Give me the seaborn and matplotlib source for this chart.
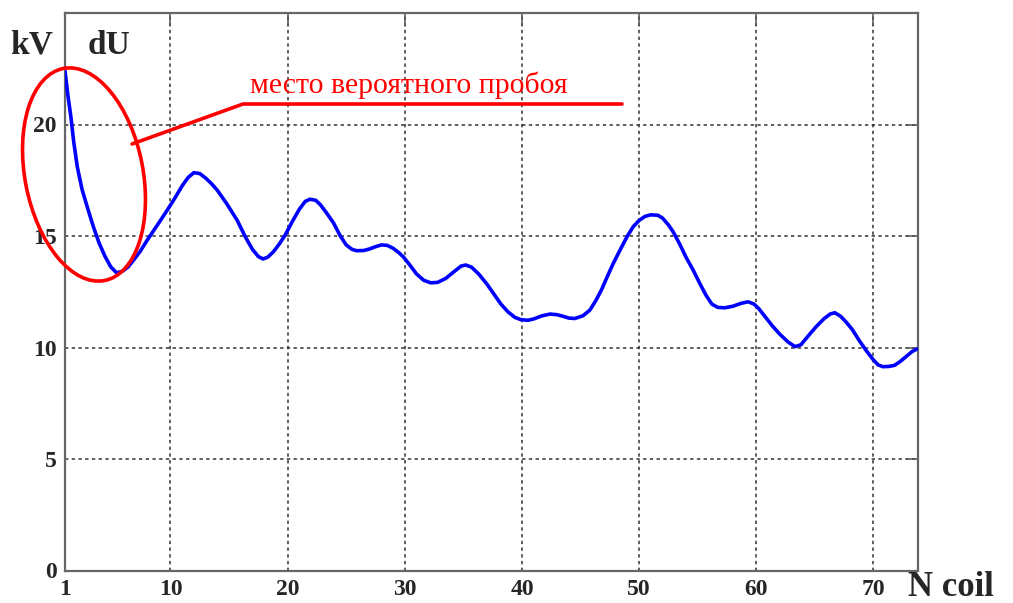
import matplotlib
matplotlib.use("Agg")
import matplotlib.pyplot as plt
from matplotlib.patches import Ellipse
import seaborn as sns
import pandas as pd

# Voltage difference between neighbouring coils along the winding
coil = [1, 1.25, 1.5, 1.75, 2.05, 2.45, 2.9, 3.4, 3.9, 4.4, 4.9, 5.4, 5.9,
        6.4, 6.9, 7.4, 8.0, 8.6, 9.2, 9.8, 10.4, 11.0, 11.5, 12.0, 12.5,
        13.0, 13.5, 14.0, 14.8, 15.7, 16.4, 17.0, 17.5, 17.9, 18.3, 18.8,
        19.3, 19.8, 20.4, 21.0, 21.5, 21.9, 22.4, 22.8, 23.3, 23.9, 24.5,
        25.0, 25.5, 25.9, 26.5, 27.0, 27.5, 28.0, 28.5, 29.0, 29.5, 29.9,
        30.5, 31.0, 31.6, 32.2, 32.8, 33.5, 34.2, 34.8, 35.2, 35.7, 36.3,
        37.0, 37.6, 38.2, 38.8, 39.4, 39.9, 40.5, 41.0, 41.7, 42.4, 43.0,
        43.5, 44.0, 44.5, 45.2, 45.8, 46.3, 46.8, 47.3, 47.8, 48.4, 49.0,
        49.5, 50.0, 50.5, 51.0, 51.6, 52.0, 52.5, 52.9, 53.5, 54.0, 54.6,
        55.2, 55.7, 56.2, 56.7, 57.3, 58.0, 58.7, 59.3, 59.8, 60.2, 60.8,
        61.4, 62.0, 62.7, 63.3, 63.8, 64.4, 65.1, 65.8, 66.3, 66.7, 67.2,
        67.7, 68.2, 68.8, 69.4, 70.0, 70.4, 70.8, 71.3, 71.8, 72.3, 72.8,
        73.3, 73.7]
du_kv = [22.4, 21.3, 20.35, 19.2, 18.1, 17.1, 16.3, 15.45, 14.7, 14.1, 13.62,
         13.35, 13.42, 13.62, 13.95, 14.3, 14.8, 15.27, 15.74, 16.22, 16.72,
         17.25, 17.62, 17.84, 17.8, 17.6, 17.35, 17.05, 16.45, 15.7, 14.95,
         14.4, 14.08, 13.97, 14.05, 14.3, 14.65, 15.05, 15.65, 16.2, 16.55,
         16.65, 16.6, 16.4, 16.05, 15.6, 15.0, 14.6, 14.4, 14.34, 14.35,
         14.42, 14.52, 14.6, 14.58, 14.45, 14.25, 14.05, 13.65, 13.3, 13.02,
         12.9, 12.92, 13.1, 13.4, 13.65, 13.7, 13.6, 13.3, 12.85, 12.4, 11.95,
         11.6, 11.35, 11.25, 11.22, 11.28, 11.42, 11.5, 11.47, 11.4, 11.32,
         11.3, 11.42, 11.68, 12.1, 12.6, 13.2, 13.78, 14.4, 15.0, 15.42, 15.7,
         15.88, 15.95, 15.93, 15.8, 15.5, 15.19, 14.6, 14.05, 13.48, 12.85,
         12.35, 11.95, 11.8, 11.78, 11.85, 11.98, 12.05, 11.95, 11.75, 11.35,
         10.95, 10.6, 10.25, 10.04, 10.12, 10.5, 10.93, 11.3, 11.5, 11.56,
         11.4, 11.12, 10.8, 10.3, 9.85, 9.44, 9.22, 9.14, 9.15, 9.2, 9.38,
         9.6, 9.82, 9.93]

x_ticks = [1, 10, 20, 30, 40, 50, 60, 70]
y_ticks = [0, 5, 10, 15, 20]

sns.set_style("white")
plt.rcParams["font.family"] = ["Liberation Serif", "DejaVu Serif"]

W, H = 1013, 603
fig = plt.figure(figsize=(W / 100, H / 100), dpi=100)
ax = fig.add_axes([65 / W, 1 - 570.5 / H, (918 - 65) / W, (570.5 - 13) / H])

df = pd.DataFrame({"coil": coil, "du": du_kv})
sns.lineplot(data=df, x="coil", y="du", ax=ax, color="#0000FF", lw=2.6,
             zorder=3, solid_joinstyle="round", solid_capstyle="round")

ax.set_xlim(1, 73.8)
ax.set_ylim(0, 25)
ax.set_xticks(x_ticks)
ax.set_yticks(y_ticks + [25])
ax.set_yticklabels([str(v) for v in y_ticks] + [""])
ax.set_xlabel("")
ax.set_ylabel("")

ax.grid(True, color="#333333", linestyle=(0, (2.2, 2.2)), lw=1.1, zorder=1)
ax.tick_params(direction="in", length=9, width=1.1, color="#555555",
               top=True, right=True, pad=6, labelsize=17)
for lab in ax.get_xticklabels() + ax.get_yticklabels():
    lab.set_fontweight("bold")
for sp in ax.spines.values():
    sp.set_color("#666666")
    sp.set_linewidth(1.6)

# Axis captions
fig.text(10 / W, 1 - 45 / H, "kV", fontsize=24, fontweight="bold",
         ha="left", va="center")
fig.text(88 / W, 1 - 45 / H, "dU", fontsize=24, fontweight="bold",
         ha="left", va="center")
fig.text(908 / W, 1 - 596 / H, "N coil", fontsize=25, fontweight="bold",
         ha="left", va="baseline")

# Highlight of the probable breakdown zone
def px(x, y):
    return x / 100, (H - y) / 100

ell = Ellipse(px(84, 174.5), width=1.18, height=2.16, angle=11,
              transform=fig.dpi_scale_trans, fill=False, edgecolor="#FF0000",
              lw=2.6, clip_on=False, zorder=4)
fig.add_artist(ell)
lx, ly = zip(px(132, 144), px(243, 104), px(622, 104))
fig.add_artist(plt.Line2D(lx, ly, transform=fig.dpi_scale_trans,
                          color="#FF0000", lw=2.6, solid_capstyle="round"))
fig.text(250 / W, 1 - 85 / H, "место вероятного пробоя", color="#FF0000",
         fontsize=21.5, ha="left", va="center")

fig.savefig("out.png", dpi=100)
